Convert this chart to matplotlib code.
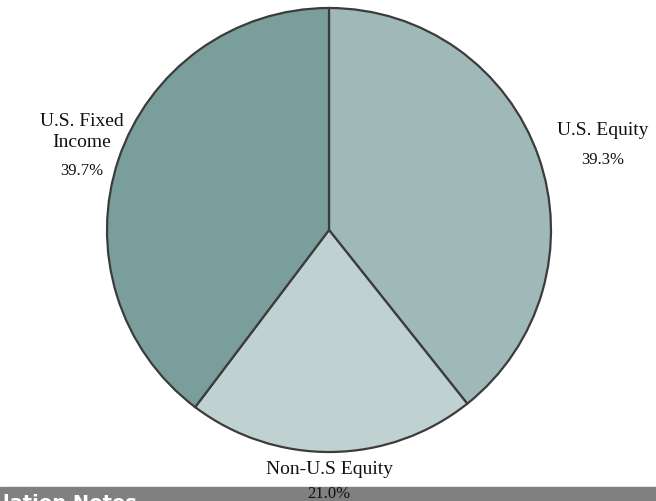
import matplotlib.pyplot as plt
from matplotlib.patches import Rectangle

# allocation data
labels = ["U.S. Equity", "Non-U.S Equity", "U.S. Fixed\nIncome"]
shares = [39.3, 21.0, 39.7]
colors = ["#9fb8b8", "#bfd1d1", "#799e9c"]

W, H = 656, 501
fig = plt.figure(figsize=(W / 100, H / 100), dpi=100)
ax = fig.add_axes([0, 0, 1, 1])

cx, cy, r = 329, H - 230, 222
ax.pie(shares, colors=colors, startangle=90, counterclock=False,
       center=(cx, cy), radius=r, frame=True,
       wedgeprops=dict(edgecolor="#3c3c3c", linewidth=1.6))
ax.set_xlim(0, W)
ax.set_ylim(0, H)
ax.set_aspect("equal")
ax.axis("off")

# grey strip at the bottom (heading is cut by the page edge)
ax.add_patch(Rectangle((0, 0), W, 14, color="#808080", zorder=0, clip_on=False))
ax.text(3, 7, "lation Notes", color="white", fontsize=14, fontweight="bold",
        ha="left", va="top", family="DejaVu Sans")

serif = "Liberation Serif"
lab_pos = [(603, H - 130), (329, H - 469), (82, H - 132)]
pct_pos = [(603, H - 160), (329, H - 494), (82, H - 171)]
for lab, val, (lx, ly), (px, py) in zip(labels, shares, lab_pos, pct_pos):
    ax.text(lx, ly, lab, ha="center", va="center", fontsize=14,
            family=serif, color="#111111", linespacing=1.25)
    ax.text(px, py, "%.1f%%" % val, ha="center", va="center", fontsize=12,
            family=serif, color="#111111")

fig.savefig("out.png", dpi=100)
